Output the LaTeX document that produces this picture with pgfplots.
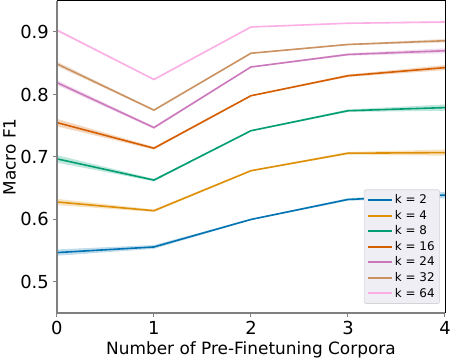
\documentclass[border=0pt]{standalone}
\usepackage{fontspec}
\setmainfont{DejaVu Sans}
\usepackage{pgfplots}
\pgfplotsset{compat=1.18}

\definecolor{c2}{HTML}{0173B2}
\definecolor{c4}{HTML}{DE8F05}
\definecolor{c8}{HTML}{029E73}
\definecolor{c16}{HTML}{D55E00}
\definecolor{c24}{HTML}{CC78BC}
\definecolor{c32}{HTML}{CA9161}
\definecolor{c64}{HTML}{FBAFE4}
\definecolor{spine}{HTML}{7F7F7F}
\definecolor{legbg}{HTML}{EEEEF4}
\definecolor{legframe}{HTML}{D4D4D4}

\begin{document}
\begin{tikzpicture}
\begin{axis}[
    scale only axis,
    width=390pt, height=314pt,
    xmin=0, xmax=4, ymin=0.45, ymax=0.95,
    xtick={0,1,2,3,4},
    ytick={0.5,0.6,0.7,0.8,0.9},
    yticklabel style={/pgf/number format/fixed, /pgf/number format/precision=1},
    /pgf/number format/assume math mode=true,
    ticklabel style={font=\fontsize{18}{21}\selectfont},
    label style={font=\fontsize{17}{20}\selectfont},
    xlabel={Number of Pre-Finetuning Corpora},
    ylabel={Macro F1},
    xlabel style={yshift=1pt},
    ylabel style={yshift=-3pt},
    tick align=outside,
    major tick length=4pt,
    tick style={spine, line width=1pt},
    xtick pos=bottom, ytick pos=left,
    axis line style={draw=none},
    line width=1.6pt,
    legend cell align=left,
    legend style={at={(0.987,0.03)}, anchor=south east,
        color=legframe, text=black,
        fill=legbg, draw=legframe, line width=0.6pt,
        rounded corners=2pt,
        font=\fontsize{12}{14}\selectfont,
        row sep=1pt, inner sep=3pt},
    legend image code/.code={\draw[#1, line width=2pt] (0pt,0pt) -- (24pt,0pt);},
    after end axis/.code={
        \draw[black, line width=0.9pt] (rel axis cs:0,1) -- (rel axis cs:1,1) -- (rel axis cs:1,0);
        \draw[spine, line width=1.5pt] (rel axis cs:0,1) -- (rel axis cs:0,0) -- (rel axis cs:1,0);
    },
]
% confidence bands
\addplot[forget plot, fill=c2, fill opacity=0.25, draw=none] coordinates {
  (0,0.552) (1,0.559) (2,0.601) (3,0.634) (4,0.644)
  (4,0.634) (3,0.630) (2,0.599) (1,0.553) (0,0.542)} -- cycle;
\addplot[forget plot, fill=c4, fill opacity=0.25, draw=none] coordinates {
  (0,0.633) (1,0.616) (2,0.679) (3,0.708) (4,0.712)
  (4,0.702) (3,0.704) (2,0.677) (1,0.612) (0,0.623)} -- cycle;
\addplot[forget plot, fill=c8, fill opacity=0.25, draw=none] coordinates {
  (0,0.703) (1,0.665) (2,0.743) (3,0.776) (4,0.784)
  (4,0.774) (3,0.772) (2,0.741) (1,0.661) (0,0.691)} -- cycle;
\addplot[forget plot, fill=c16, fill opacity=0.25, draw=none] coordinates {
  (0,0.761) (1,0.716) (2,0.799) (3,0.832) (4,0.847)
  (4,0.839) (3,0.828) (2,0.797) (1,0.712) (0,0.749)} -- cycle;
\addplot[forget plot, fill=c24, fill opacity=0.25, draw=none] coordinates {
  (0,0.823) (1,0.749) (2,0.845) (3,0.866) (4,0.874)
  (4,0.866) (3,0.862) (2,0.843) (1,0.745) (0,0.815)} -- cycle;
\addplot[forget plot, fill=c32, fill opacity=0.25, draw=none] coordinates {
  (0,0.853) (1,0.776) (2,0.867) (3,0.881) (4,0.889)
  (4,0.883) (3,0.879) (2,0.865) (1,0.774) (0,0.845)} -- cycle;
\addplot[forget plot, fill=c64, fill opacity=0.25, draw=none] coordinates {
  (0,0.905) (1,0.825) (2,0.909) (3,0.915) (4,0.918)
  (4,0.914) (3,0.913) (2,0.907) (1,0.823) (0,0.901)} -- cycle;
% mean lines
\addplot[c2] coordinates {(0,0.547) (1,0.556) (2,0.600) (3,0.632) (4,0.639)};
\addlegendentry{k = 2}
\addplot[c4] coordinates {(0,0.628) (1,0.614) (2,0.678) (3,0.706) (4,0.707)};
\addlegendentry{k = 4}
\addplot[c8] coordinates {(0,0.697) (1,0.663) (2,0.742) (3,0.774) (4,0.779)};
\addlegendentry{k = 8}
\addplot[c16] coordinates {(0,0.755) (1,0.714) (2,0.798) (3,0.830) (4,0.843)};
\addlegendentry{k = 16}
\addplot[c24] coordinates {(0,0.819) (1,0.747) (2,0.844) (3,0.864) (4,0.870)};
\addlegendentry{k = 24}
\addplot[c32] coordinates {(0,0.849) (1,0.775) (2,0.866) (3,0.880) (4,0.886)};
\addlegendentry{k = 32}
\addplot[c64] coordinates {(0,0.903) (1,0.824) (2,0.908) (3,0.914) (4,0.916)};
\addlegendentry{k = 64}
\end{axis}
\end{tikzpicture}
\end{document}
